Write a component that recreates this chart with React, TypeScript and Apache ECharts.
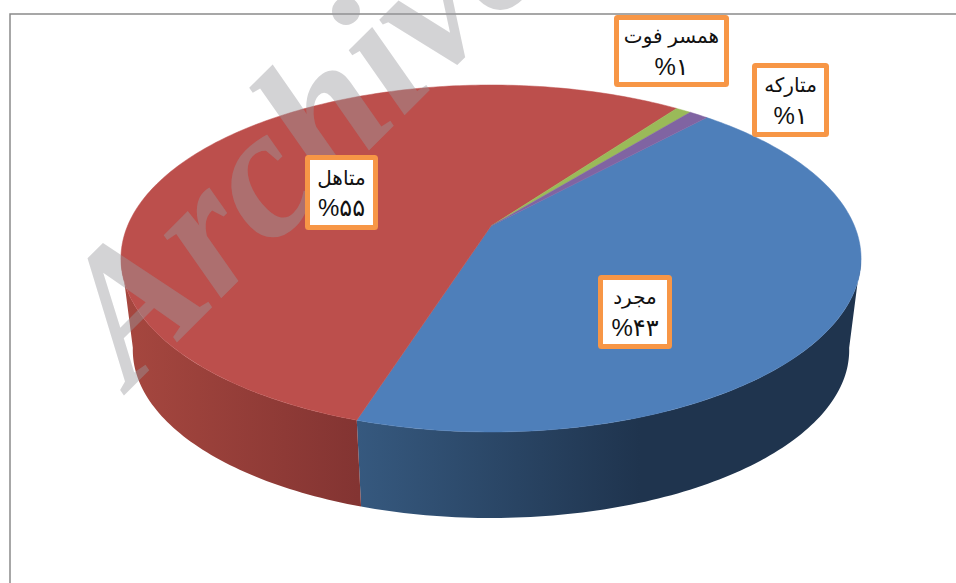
import React, { useEffect, useRef } from "react";
import * as echarts from "echarts";

const categories = ["مجرد", "متاهل", "همسر فوت", "متارکه"];
const values = [43.1, 55.1, 0.8, 1.0];
const valueLabels = ["%۴۳", "%۵۵", "%۱", "%۱"];
const topColors = ["#4E7FBA", "#BC4F4C", "#9ABA59", "#8064A2"];
const watermarkText = "Archive";

// label box layout: [left, top, right, bottom]
const labelBoxes = [
  [598, 275, 672, 349],
  [305, 155, 378, 230],
  [614, 15, 729, 87],
  [752, 63, 829, 137],
];

// perspective projection of the pie's circle
const CX = 491;
const TOP_APEX_Y = 226;
const BOTTOM_APEX_Y = 318.6;
const A = 363.5;
const B = 167.4;
const K = 0.1873;
const BOTTOM_SCALE = 0.968;
const START_ANGLE = 42.5;

function project(deg: number, apexY: number, s: number): number[] {
  const r = (deg * Math.PI) / 180;
  const u = Math.sin(r);
  const v = -Math.cos(r);
  const w = 1 - K * v;
  return [CX + (s * A * u) / w, apexY + (s * B * v) / w];
}

const total = values.reduce((a, b) => a + b, 0);
const spans: number[][] = [];
{
  let acc = START_ANGLE;
  values.forEach((v) => {
    const next = acc + (v / total) * 360;
    spans.push([acc, next]);
    acc = next;
  });
}

function arc(a0: number, a1: number, apexY: number, s: number): number[][] {
  const n = Math.max(2, Math.ceil(Math.abs(a1 - a0) / 1));
  const pts: number[][] = [];
  for (let i = 0; i <= n; i++) pts.push(project(a0 + ((a1 - a0) * i) / n, apexY, s));
  return pts;
}

const sideGradients: Record<number, any> = {
  0: new echarts.graphic.LinearGradient(356, 0, 640, 0, [
    { offset: 0, color: "#36597F" },
    { offset: 1, color: "#1F344E" },
  ], true),
  1: new echarts.graphic.LinearGradient(125, 0, 358, 0, [
    { offset: 0, color: "#A6473F" },
    { offset: 1, color: "#833432" },
  ], true),
};

export default function App() {
  const ref = useRef<HTMLDivElement>(null);
  useEffect(() => {
    const chart = echarts.init(ref.current!, undefined, { renderer: "svg" });
    const data = values.map((v, i) => ({ name: categories[i], value: [v] }));
    chart.setOption({
      animation: false,
      backgroundColor: "#fff",
      graphic: {
        elements: [
          {
            type: "polyline",
            z: 1,
            shape: { points: [[10, 583], [10, 14], [956, 14]] },
            style: { stroke: "#8A8A8A", lineWidth: 1.5, fill: "none" },
          },
          {
            type: "text",
            z: 5,
            x: 152,
            y: 410,
            rotation: Math.PI / 4,
            style: {
              text: watermarkText,
              font: 'italic bold 186px "Liberation Serif"',
              fill: "rgba(152,154,158,0.43)",
              textAlign: "left",
              textVerticalAlign: "bottom",
            },
          },
        ],
      },
      series: [
        {
          type: "custom",
          name: "sides",
          coordinateSystem: "none",
          z: 2,
          silent: true,
          data,
          renderItem: (p: any) => {
            const [a0, a1] = spans[p.dataIndex];
            const from = Math.max(a0, 100);
            const to = Math.min(a1, 260);
            if (to <= from) return null;
            const fill = sideGradients[p.dataIndex];
            const pts = arc(from, to, TOP_APEX_Y, 1).concat(
              arc(to, from, BOTTOM_APEX_Y, BOTTOM_SCALE)
            );
            return { type: "polygon", shape: { points: pts }, style: { fill } };
          },
        },
        {
          type: "custom",
          name: "tops",
          coordinateSystem: "none",
          z: 3,
          silent: true,
          data,
          renderItem: (p: any) => {
            const [a0, a1] = spans[p.dataIndex];
            const pts = [[CX, TOP_APEX_Y]].concat(arc(a0, a1, TOP_APEX_Y, 1));
            const c = topColors[p.dataIndex];
            return {
              type: "polygon",
              shape: { points: pts },
              style: { fill: c, stroke: c, lineWidth: 0.5 },
            };
          },
        },
        {
          type: "custom",
          name: "labels",
          coordinateSystem: "none",
          z: 8,
          silent: true,
          data,
          renderItem: (p: any) => {
            const i = p.dataIndex;
            const [l, t, r, b] = labelBoxes[i];
            const mx = (l + r) / 2;
            const my = (t + b) / 2;
            return {
              type: "group",
              children: [
                {
                  type: "rect",
                  shape: { x: l + 2.5, y: t + 2.5, width: r - l - 5, height: b - t - 5, r: 1 },
                  style: { fill: "#FFFFFF", stroke: "#F79646", lineWidth: 5 },
                },
                {
                  type: "text",
                  style: {
                    x: mx,
                    y: my - 15,
                    text: categories[i],
                    font: '20px "Liberation Sans", "DejaVu Sans", "Noto Sans"',
                    fill: "#111",
                    textAlign: "center",
                    textVerticalAlign: "middle",
                  },
                },
                {
                  type: "text",
                  style: {
                    x: mx,
                    y: my + 15,
                    text: valueLabels[i],
                    font: '24px "Liberation Sans", "DejaVu Sans", "Noto Sans"',
                    fill: "#111",
                    textAlign: "center",
                    textVerticalAlign: "middle",
                  },
                },
              ],
            };
          },
        },
      ],
    });
    return () => chart.dispose();
  }, []);
  return (
    <div
      ref={ref}
      style={{ position: "fixed", left: 0, top: 0, width: 956, height: 583, overflow: "hidden" }}
    />
  );
}
